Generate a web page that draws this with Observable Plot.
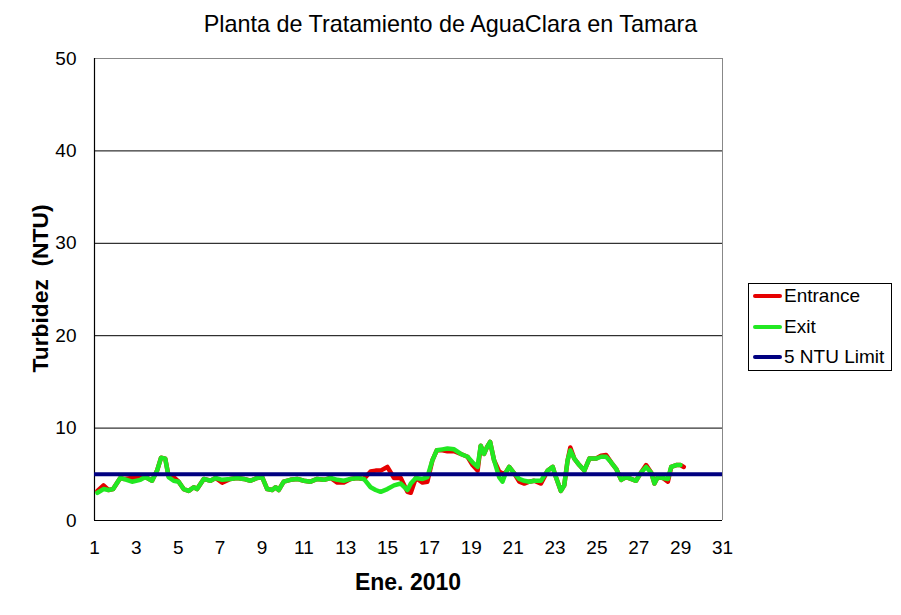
<!DOCTYPE html>
<html>
<head>
<meta charset="utf-8">
<script src="https://cdn.jsdelivr.net/npm/d3@7"></script>
<script src="https://cdn.jsdelivr.net/npm/@observablehq/plot@0.6"></script>
<style>
  html, body { margin: 0; padding: 0; background: #fff; }
  #wrap { position: relative; width: 901px; height: 615px; font-family: "Liberation Sans", Arial, sans-serif; color: #000; }
  #wrap svg { position: absolute; left: 0; top: 0; }
  .title { position: absolute; left: 0; width: 901px; top: 13px; text-align: center; font-size: 23.4px; line-height: 23px; }
  .xlabel { position: absolute; left: 258px; width: 300px; top: 571px; text-align: center; font-size: 23px; line-height: 23px; font-weight: bold; }
  .ylabel { position: absolute; left: -110px; width: 300px; top: 277px; height: 23px; text-align: center; font-size: 22.8px; line-height: 23px; font-weight: bold; transform: rotate(-90deg); white-space: pre; }
  .legend { position: absolute; left: 748px; top: 283px; width: 142px; height: 86px; border: 1px solid #000; background: #fff; }
  .legend .row { position: absolute; left: 4px; height: 22px; font-size: 19px; line-height: 22px; white-space: nowrap; }
  .legend .sw { display: inline-block; width: 29px; height: 4px; vertical-align: middle; margin-right: 2px; position: relative; top: -1px; border-radius: 2px; }
</style>
</head>
<body>
<div id="wrap">
  <div class="title">Planta de Tratamiento de AguaClara en Tamara</div>
  <div class="ylabel">Turbidez  (NTU)</div>
  <div class="xlabel">Ene. 2010</div>
</div>
<script>
// ---- data ----
const days = [1.14,1.43,1.67,1.89,2.23,2.39,2.79,3.19,3.43,3.75,3.99,4.18,4.38,4.54,4.78,5.02,5.26,5.50,5.74,5.90,
  6.22,6.54,6.78,7.10,7.49,7.81,8.13,8.45,8.77,9.01,9.25,9.49,9.65,9.80,10.04,10.36,10.68,11.00,11.32,11.64,
  11.96,12.28,12.60,12.91,13.23,13.55,13.87,14.19,14.43,14.67,14.99,15.31,15.63,15.95,16.11,16.35,16.67,16.90,17.14,17.35,
  17.62,17.86,18.18,18.50,18.82,19.06,19.30,19.45,19.61,19.74,19.90,20.09,20.33,20.49,20.65,20.81,21.05,21.29,21.53,21.77,
  22.00,22.33,22.65,22.89,23.04,23.28,23.44,23.60,23.73,23.92,24.16,24.40,24.64,24.96,25.20,25.44,25.68,25.92,26.16,26.40,
  26.63,26.87,27.11,27.35,27.59,27.75,27.91,28.15,28.39,28.55,28.79,28.99,29.15];

const exitValues = [3.0,3.4,3.3,3.4,4.6,4.5,4.2,4.4,4.7,4.3,5.4,6.8,6.7,4.7,4.3,4.2,3.4,3.2,3.6,3.4,
  4.5,4.3,4.6,4.4,4.5,4.6,4.5,4.3,4.6,4.7,3.4,3.3,3.6,3.3,4.2,4.4,4.5,4.3,4.2,4.5,
  4.4,4.6,4.4,4.3,4.5,4.6,4.5,3.6,3.3,3.1,3.4,3.8,4.0,3.3,4.0,4.6,4.5,4.7,6.5,7.6,
  7.7,7.8,7.7,7.2,6.9,6.3,5.8,8.1,7.2,7.9,8.5,6.5,4.7,4.2,5.2,5.8,5.1,4.5,4.3,4.2,
  4.3,4.3,5.4,5.8,4.7,3.2,3.8,6.5,7.6,6.7,6.0,5.4,6.7,6.7,6.9,6.9,6.3,5.6,4.4,4.7,
  4.5,4.3,5.2,5.8,5.2,4.0,4.7,4.6,4.5,5.8,6.0,6.0,null];

const entranceValues = [3.2,3.8,3.3,3.4,4.6,4.5,4.6,4.7,4.7,4.3,5.4,6.8,6.7,4.8,4.7,4.2,3.4,3.2,3.6,3.4,
  4.5,4.3,4.6,4.1,4.5,4.6,4.5,4.3,4.6,4.7,3.4,3.3,3.6,3.3,4.2,4.4,4.5,4.3,4.2,4.5,
  4.4,4.6,4.1,4.1,4.5,4.6,4.5,5.3,5.4,5.4,5.8,4.6,4.6,3.1,3.0,4.6,4.1,4.2,6.5,7.6,
  7.6,7.5,7.5,7.2,6.9,6.0,5.4,8.1,7.2,7.9,8.5,6.5,5.3,5.1,5.2,5.8,5.1,4.2,4.0,4.2,
  4.3,4.0,5.4,5.8,4.7,3.2,3.8,6.5,7.9,6.7,6.0,5.4,6.7,6.7,7.0,7.1,6.3,5.6,4.4,4.7,
  4.5,4.3,5.2,6.0,5.2,4.0,4.7,4.6,4.2,5.8,6.0,6.0,5.8];

const limitValue = [5];
const xTicks = [1,3,5,7,9,11,13,15,17,19,21,23,25,27,29,31];
const yTicks = [0,10,20,30,40,50];
const gridValues = [10,20,30,40];
const seriesNames = ["Entrance", "Exit", "5 NTU Limit"];
const seriesColors = ["#e60000", "#22e822", "#000080"];

// ---- tables for the library ----
const entranceData = days.map((d, i) => ({day: d, value: entranceValues[i]}));
const exitData = days.map((d, i) => ({day: d, value: exitValues[i]}));

const chart = Plot.plot({
  width: 901,
  height: 615,
  marginLeft: 94,
  marginRight: 179,
  marginTop: 58,
  marginBottom: 95,
  style: {fontFamily: "'Liberation Sans', Arial, sans-serif", fontSize: "19px", color: "#000", background: "transparent"},
  x: {domain: [1, 31], ticks: xTicks, tickSize: 0, tickPadding: 20, label: null, tickFormat: d => String(d)},
  y: {domain: [0, 50], ticks: yTicks, tickSize: 0, tickPadding: 18, label: null, tickFormat: d => String(d)},
  marks: [
    Plot.ruleY(gridValues, {stroke: "#000", strokeWidth: 1}),
    Plot.ruleY([yTicks[yTicks.length - 1]], {stroke: "#888", strokeWidth: 1}),
    Plot.ruleX([xTicks[xTicks.length - 1]], {stroke: "#888", strokeWidth: 1}),
    Plot.ruleX([xTicks[0]], {stroke: "#000", strokeWidth: 1.2}),
    Plot.ruleY([yTicks[0]], {stroke: "#000", strokeWidth: 1.2}),
    Plot.line(entranceData, {x: "day", y: "value", stroke: seriesColors[0], strokeWidth: 4.5, strokeLinejoin: "round", strokeLinecap: "round"}),
    Plot.line(exitData, {x: "day", y: "value", stroke: seriesColors[1], strokeWidth: 4.5, strokeLinejoin: "round", strokeLinecap: "round"}),
    Plot.ruleY(limitValue, {stroke: seriesColors[2], strokeWidth: 4})
  ]
});

const wrap = document.getElementById("wrap");
wrap.insertBefore(chart, wrap.firstChild);

// legend
const legend = document.createElement("div");
legend.className = "legend";
const rowTops = [1, 32, 62];
seriesNames.forEach((name, i) => {
  const row = document.createElement("div");
  row.className = "row";
  row.style.top = rowTops[i] + "px";
  const sw = document.createElement("span");
  sw.className = "sw";
  sw.style.background = seriesColors[i];
  row.appendChild(sw);
  row.appendChild(document.createTextNode(name));
  legend.appendChild(row);
});
wrap.appendChild(legend);
</script>
</body>
</html>
